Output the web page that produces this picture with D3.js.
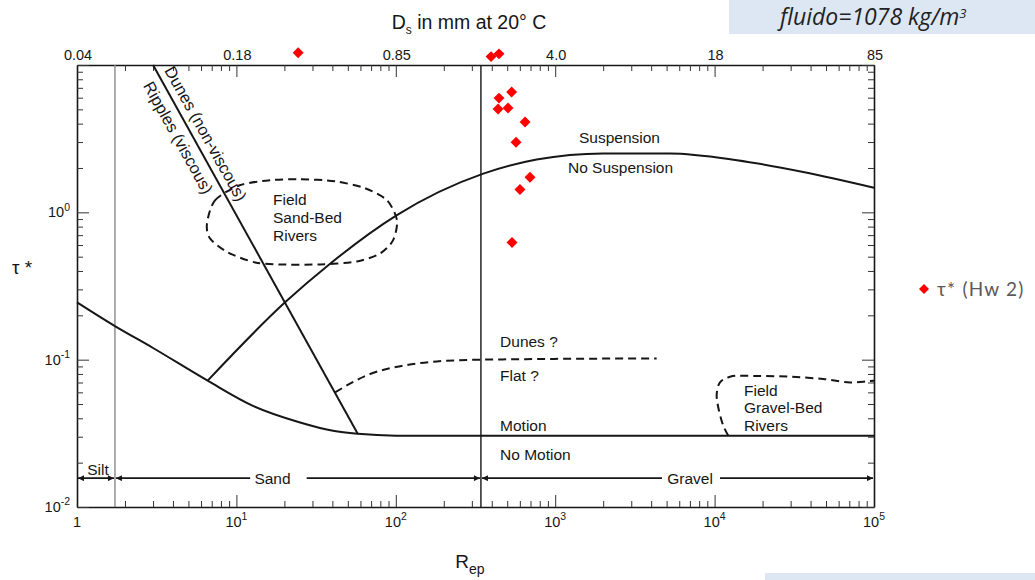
<!DOCTYPE html>
<html><head><meta charset="utf-8">
<script src="https://cdn.jsdelivr.net/npm/d3@7"></script>
<style>
body{margin:0;background:#fff;}
svg{display:block;font-family:"Liberation Sans",Arial,sans-serif;}
</style></head><body>
<svg id="c" width="1035" height="580"></svg>
<script>
// ---------- data ----------
const xDomain = [1, 1e5];
const yDomain = [0.01, 10];
const bottomMajor = [1, 10, 100, 1000, 10000, 100000];
const bottomLabels = [["1",""],["10","1"],["10","2"],["10","3"],["10","4"],["10","5"]];
const topLabels = ["0.04","0.18","0.85","4.0","18","85"];
const leftMajor = [0.01, 0.1, 1];
const leftLabels = [["10","-2"],["10","-1"],["10","0"]];

const shieldsRep = [1, 1.73, 3, 6.6, 12.7, 25.1, 40.4, 57.7, 100, 1000, 100000];
const shieldsTau = [0.245, 0.169, 0.12, 0.072, 0.0486, 0.0375, 0.0329, 0.0314, 0.0305, 0.0304, 0.0304];
const suspRep = [6.6, 20.2, 38.7, 101, 354, 765, 2000, 5250, 13800, 36000, 100000];
const suspTau = [0.072, 0.245, 0.448, 0.954, 1.83, 2.28, 2.51, 2.51, 2.26, 1.88, 1.47];
const rippleRep = [3.0, 57.7];
const rippleTau = [10, 0.0314];
const duneFlatRep = [41.6, 68.9, 111, 181, 346, 4330];
const duneFlatTau = [0.06, 0.0799, 0.091, 0.0973, 0.1, 0.102];
const sandFieldRep = [6.54, 7.34, 10.5, 16.3, 25.1, 41.6, 64.1, 88.1, 101.7, 96.0, 79.6, 57.1, 33.5, 18.8, 13.1, 8.86, 6.83];
const sandFieldTau = [0.842, 1.207, 1.527, 1.651, 1.677, 1.625, 1.457, 1.207, 0.882, 0.645, 0.526, 0.464, 0.443, 0.443, 0.457, 0.534, 0.665];
const gravelFieldRep = [12190, 11340, 10550, 10310, 10810, 12500, 18370, 29700, 48100, 70700, 90000, 100000];
const gravelFieldTau = [0.0304, 0.0356, 0.0474, 0.0584, 0.0701, 0.0766, 0.0775, 0.0766, 0.0739, 0.0701, 0.0712, 0.0720];
const hwRep = [24.4, 396, 444, 533, 444, 438, 506, 647, 568, 695, 601, 536];
const hwTau = [12.1, 11.4, 11.9, 6.55, 5.96, 5.02, 5.10, 4.10, 2.99, 1.73, 1.43, 0.625];
const siltSandBoundary = 1.73, sandGravelBoundary = 342;
const classNames = ["Silt", "Sand", "Gravel"];
const classFrom = [1, 1.73, 342];
const classTo = [1.73, 342, 100000];
const classGapFrom = [null, 12.2, 4677];
const classGapTo = [null, 27.6, 10810];
const classLabelRep = [1.354, 16.85, 7015];
const classArrowTau = 0.0157;
const noteTexts = ["Suspension", "No Suspension", "Dunes ?", "Flat ?", "Motion", "No Motion"];
const noteRep = [1410, 1203, 451, 451, 451, 451];
const noteTau = [2.95, 1.85, 0.121, 0.072, 0.0329, 0.0209];
const sandFieldLabel = ["Field", "Sand-Bed", "Rivers"];
const gravelFieldLabel = ["Field", "Gravel-Bed", "Rivers"];
const legendLabel = "τ* (Hw 2)";
const boxText = "fluido=1078 kg/m";

// ---------- setup ----------
const svg = d3.select("#c");
const W = 1035, H = 580;
const x = d3.scaleLog().domain(xDomain).range([77, 874]);
const y = d3.scaleLog().domain(yDomain).range([507, 65]);
const ink = "#161616";
const zip = (a, b) => a.map((v, i) => [v, b[i]]);
function logTicks(lo, hi) { const t = []; for (let d = lo; d < hi * 0.999; d *= 10) for (let k = 1; k < 10; k++) t.push(d * k); t.push(hi); return t; }
const isMajor = v => Math.abs(Math.log10(v) - Math.round(Math.log10(v))) < 1e-6;
const xt = logTicks(1, 1e5), yt = logTicks(0.01, 10);

svg.append("rect").attr("width", W).attr("height", H).attr("fill", "#fff");
// light-blue boxes
svg.append("rect").attr("x", 729).attr("y", 0).attr("width", W - 729).attr("height", 34).attr("fill", "#dde7f3");
svg.append("rect").attr("x", 765).attr("y", 573).attr("width", W - 765).attr("height", 7).attr("fill", "#dde7f3");

const bt = svg.append("text").attr("x", 780).attr("y", 25).attr("font-family", "'Open Sans', Lato, sans-serif")
  .attr("font-style", "italic").attr("font-size", 22).attr("fill", "#222");
bt.append("tspan").text(boxText);
bt.append("tspan").attr("dy", -7).attr("font-size", 13).text("3");
{ const w = bt.node().getBBox().width; const fs = Math.min(23, 22 * 211 / w); bt.attr("font-size", fs); }

// ---------- axes ----------
function styleAxis(g) {
  g.select(".domain").attr("stroke", ink).attr("stroke-width", 1.6);
  g.selectAll(".tick line").attr("stroke", "#333").attr("stroke-width", 1);
  g.selectAll(".tick text").remove();
}
const gB = svg.append("g").attr("transform", "translate(0,507)")
  .call(d3.axisBottom(x).tickValues(xt).tickSize(-6).tickSizeOuter(0)).call(styleAxis);
gB.selectAll(".tick line").filter(d => isMajor(d)).attr("y2", -12);
const gT = svg.append("g").attr("transform", "translate(0,65)")
  .call(d3.axisTop(x).tickValues(xt).tickSize(-6).tickSizeOuter(0)).call(styleAxis);
gT.selectAll(".tick line").filter(d => isMajor(d)).attr("y2", 12);
const gL = svg.append("g").attr("transform", "translate(77,0)")
  .call(d3.axisLeft(y).tickValues(yt).tickSize(-6).tickSizeOuter(0)).call(styleAxis);
gL.selectAll(".tick line").filter(d => isMajor(d)).attr("x2", 12);
const gR = svg.append("g").attr("transform", "translate(874,0)")
  .call(d3.axisRight(y).tickValues(yt).tickSize(-6).tickSizeOuter(0)).call(styleAxis);
gR.selectAll(".tick line").filter(d => isMajor(d)).attr("x2", -12);

function supText(g, base, exp, x0, y0, anchor, size) {
  const t = g.append("text").attr("x", x0).attr("y", y0).attr("text-anchor", anchor).attr("font-size", size).attr("fill", ink);
  t.append("tspan").text(base);
  if (exp) t.append("tspan").attr("dy", -size * 0.45).attr("font-size", size * 0.72).text(exp);
  return t;
}
bottomMajor.forEach((v, i) => supText(svg, bottomLabels[i][0], bottomLabels[i][1], x(v), 527, "middle", 14.5));
bottomMajor.forEach((v, i) => svg.append("text").attr("x", x(v) + 1).attr("y", 60).attr("text-anchor", "middle")
  .attr("font-size", 14.5).attr("fill", ink).text(topLabels[i]));
leftMajor.forEach((v, i) => supText(svg, leftLabels[i][0], leftLabels[i][1], 70, y(v) + 5, "end", 14.5));

// axis titles
{
  const t = svg.append("text").attr("x", 469).attr("y", 29).attr("text-anchor", "middle").attr("font-size", 19.5).attr("fill", ink);
  t.append("tspan").text("D");
  t.append("tspan").attr("dy", 5).attr("font-size", 12).text("s");
  t.append("tspan").attr("dy", -5).text(" in mm at 20° C");
  const r = svg.append("text").attr("x", 470).attr("y", 568).attr("text-anchor", "middle").attr("font-size", 19).attr("fill", ink);
  r.append("tspan").text("R");
  r.append("tspan").attr("dy", 6).attr("font-size", 14).text("ep");
  svg.append("text").attr("x", 12).attr("y", 274).attr("font-size", 19).attr("fill", ink).text("τ *");
}

// ---------- regime lines ----------
const lineMono = d3.line().x(d => x(d[0])).y(d => y(d[1])).curve(d3.curveMonotoneX);
const lineStraight = d3.line().x(d => x(d[0])).y(d => y(d[1]));
const lineClosed = d3.line().x(d => x(d[0])).y(d => y(d[1])).curve(d3.curveCardinalClosed.tension(0.2));
const lineCR = d3.line().x(d => x(d[0])).y(d => y(d[1])).curve(d3.curveCatmullRom);

svg.append("line").attr("x1", x(siltSandBoundary)).attr("x2", x(siltSandBoundary)).attr("y1", y(10)).attr("y2", y(0.01))
  .attr("stroke", "#8a8a8a").attr("stroke-width", 1.4);
svg.append("line").attr("x1", x(sandGravelBoundary)).attr("x2", x(sandGravelBoundary)).attr("y1", y(10)).attr("y2", y(0.01))
  .attr("stroke", ink).attr("stroke-width", 1.4);

const solid = p => p.attr("fill", "none").attr("stroke", ink).attr("stroke-width", 2);
const dashed = p => p.attr("fill", "none").attr("stroke", ink).attr("stroke-width", 2).attr("stroke-dasharray", "8,5");
svg.append("path").datum(zip(shieldsRep, shieldsTau)).attr("d", lineMono).call(solid);
svg.append("path").datum(zip(suspRep, suspTau)).attr("d", lineMono).call(solid);
svg.append("path").datum(zip(rippleRep, rippleTau)).attr("d", lineStraight).call(solid);
svg.append("path").datum(zip(duneFlatRep, duneFlatTau)).attr("d", lineMono).call(dashed);
svg.append("path").datum(zip(sandFieldRep, sandFieldTau)).attr("d", lineClosed).call(dashed);
svg.append("path").datum(zip(gravelFieldRep, gravelFieldTau)).attr("d", lineCR).call(dashed);

// ripple / dune labels along the line
{
  const x1 = x(rippleRep[0]), y1 = y(rippleTau[0]), x2 = x(rippleRep[1]), y2 = y(rippleTau[1]);
  const ang = Math.atan2(y2 - y1, x2 - x1), deg = ang * 180 / Math.PI;
  const u = [Math.cos(ang), Math.sin(ang)], n = [Math.sin(ang), -Math.cos(ang)];
  const place = (along, perp) => [x1 + u[0] * along + n[0] * perp, y1 + u[1] * along + n[1] * perp];
  const p1 = place(10, 7);
  svg.append("text").attr("transform", `translate(${p1[0]},${p1[1]}) rotate(${deg})`).attr("font-size", 16.5).attr("fill", ink).text("Dunes (non-viscous)");
  const p2 = place(13, -19);
  svg.append("text").attr("transform", `translate(${p2[0]},${p2[1]}) rotate(${deg})`).attr("font-size", 16.5).attr("fill", ink).text("Ripples (viscous)");
}

// annotations
noteTexts.forEach((t, i) => svg.append("text").attr("x", x(noteRep[i])).attr("y", y(noteTau[i])).attr("font-size", 15.5).attr("fill", ink).text(t));
function multi(lines, rep, tau, step) {
  const t = svg.append("text").attr("font-size", 15.5).attr("fill", ink);
  lines.forEach((s, i) => t.append("tspan").attr("x", x(rep)).attr("y", y(tau) + i * step).text(s));
}
multi(sandFieldLabel, 16.97, 1.116, 18);
multi(gravelFieldLabel, 15290, 0.0569, 17.5);

// size-class arrows
const defs = svg.append("defs");
defs.append("marker").attr("id", "arr").attr("viewBox", "0 0 10 10").attr("refX", 10).attr("refY", 5)
  .attr("markerWidth", 7).attr("markerHeight", 6).attr("markerUnits", "userSpaceOnUse").attr("orient", "auto-start-reverse")
  .append("path").attr("d", "M0,0L10,5L0,10z").attr("fill", ink);
const ay = y(classArrowTau);
classNames.forEach((nm, i) => {
  const xa = x(classFrom[i]) + 1, xb = x(classTo[i]) - 1;
  const seg = (a, b, s, e) => {
    const l = svg.append("line").attr("x1", a).attr("x2", b).attr("y1", ay).attr("y2", ay).attr("stroke", ink).attr("stroke-width", 1.6);
    if (s) l.attr("marker-start", "url(#arr)");
    if (e) l.attr("marker-end", "url(#arr)");
  };
  if (classGapFrom[i] === null) {
    seg(xa, xb, true, true);
    svg.append("text").attr("x", x(classLabelRep[i])).attr("y", ay - 3).attr("text-anchor", "middle").attr("font-size", 15.5).attr("fill", ink).text(nm);
  } else {
    seg(xa, x(classGapFrom[i]), true, false);
    seg(x(classGapTo[i]), xb, false, true);
    svg.append("text").attr("x", x(classLabelRep[i])).attr("y", ay + 5.5).attr("text-anchor", "middle").attr("font-size", 15.5).attr("fill", ink).text(nm);
  }
});

// data points
const sym = d3.symbol().type(d3.symbolSquare).size(60);
svg.append("g").selectAll("path").data(zip(hwRep, hwTau)).join("path")
  .attr("d", sym).attr("transform", d => `translate(${x(d[0])},${y(d[1])}) rotate(45)`).attr("fill", "#ff0000");

// legend
svg.append("path").attr("d", d3.symbol().type(d3.symbolSquare).size(50)).attr("transform", "translate(924,289) rotate(45)").attr("fill", "#ff0000");
svg.append("text").attr("x", 937).attr("y", 295.5).attr("font-family", "Lato, 'Open Sans', sans-serif").attr("font-size", 19)
  .attr("letter-spacing", 1.2).attr("fill", "#595959").text(legendLabel);
</script>
</body></html>
